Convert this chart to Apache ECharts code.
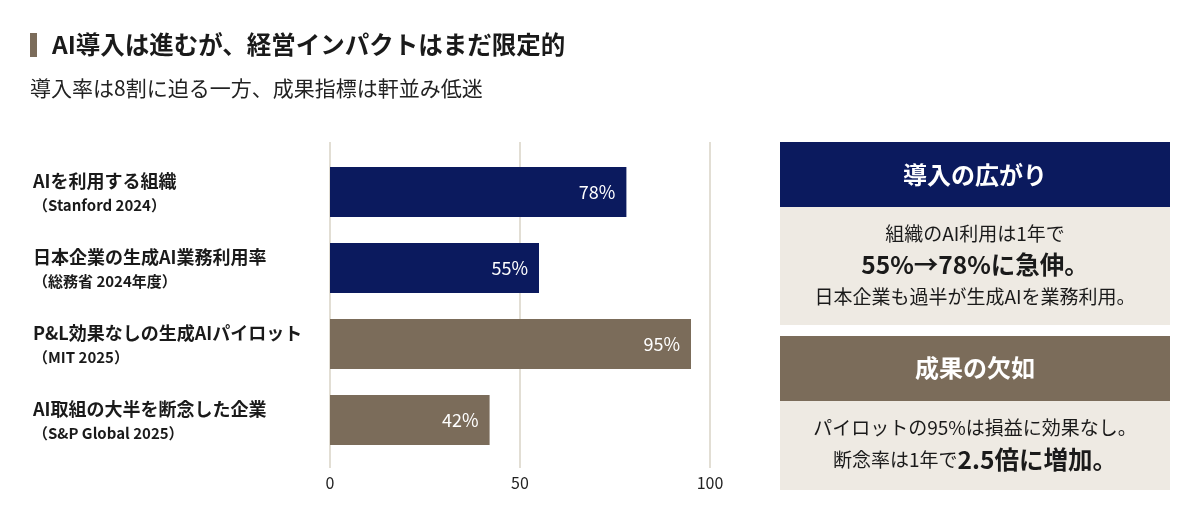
<!DOCTYPE html>
<html>
<head>
<meta charset="utf-8">
<script src="https://cdn.jsdelivr.net/npm/echarts@6/dist/echarts.min.js"></script>
<style>
  html, body { margin: 0; padding: 0; background: #fff; }
  #chart { width: 1200px; height: 520px; }
</style>
</head>
<body>
<div id="chart"></div>
<script>
// data
var categoryTitles = ['AIを利用する組織', '日本企業の生成AI業務利用率', 'P&L効果なしの生成AIパイロット', 'AI取組の大半を断念した企業'];
var categorySources = ['（Stanford 2024）', '（総務省 2024年度）', '（MIT 2025）', '（S&P Global 2025）'];
var values = [78, 55, 95, 42];
var groups = ['adoption', 'adoption', 'impact', 'impact'];
var xTicks = [0, 50, 100];

var NAVY = '#0b1a5e';
var TAUPE = '#7b6c5a';
var BEIGE = '#eeeae3';
var INK = '#1a1a1a';
var FONT = '"Noto Sans CJK JP", "Noto Sans", sans-serif';

var chart = echarts.init(document.getElementById('chart'));

function centerText(y, text, size, bold, color) {
    return {
        type: 'text', x: 975, y: y,
        style: {
            text: text, font: (bold ? 'bold ' : '') + size + 'px ' + FONT,
            fill: color || INK, align: 'center', verticalAlign: 'middle'
        }
    };
}

var option = {
    backgroundColor: '#fff',
    animation: false,
    textStyle: { fontFamily: FONT },
    grid: [
        // grid 0: only carries the vertical grid lines + tick labels
        { left: 330, right: 490, top: 142, bottom: 52 },
        // grid 1: the bars
        { left: 330, right: 490, top: 154, bottom: 62 }
    ],
    xAxis: [
        {
            gridIndex: 0, type: 'value', min: xTicks[0], max: xTicks[xTicks.length - 1], interval: 50,
            axisLine: { show: false }, axisTick: { show: false },
            splitLine: { show: true, lineStyle: { color: '#e2ded4', width: 2 } },
            axisLabel: { color: '#222', fontSize: 16, margin: 7, fontFamily: FONT }
        },
        {
            gridIndex: 1, type: 'value', min: 0, max: 100, show: false
        }
    ],
    yAxis: [
        {
            gridIndex: 0, type: 'category', data: categoryTitles, show: false
        },
        {
            gridIndex: 1, type: 'category', inverse: true,
            data: categoryTitles,
            axisLine: { show: false }, axisTick: { show: false },
            axisLabel: {
                align: 'left', margin: 297,
                formatter: function (v, i) {
                    return '{t|' + v + '}\n{s|' + categorySources[i] + '}';
                },
                rich: {
                    t: { fontSize: 18, fontWeight: 'bold', color: INK, lineHeight: 26, fontFamily: FONT },
                    s: { fontSize: 15, fontWeight: 'bold', color: INK, lineHeight: 22, fontFamily: FONT }
                }
            }
        }
    ],
    series: [{
        type: 'bar',
        xAxisIndex: 1, yAxisIndex: 1,
        barWidth: 50,
        data: values.map(function (v, i) {
            return { value: v, itemStyle: { color: groups[i] === 'adoption' ? NAVY : TAUPE } };
        }),
        label: {
            show: true, position: 'insideRight', distance: 11,
            color: '#fff', fontSize: 18, fontFamily: FONT,
            formatter: '{c}%'
        }
    }],
    graphic: [
        // title
        { type: 'rect', left: 30, top: 33, shape: { width: 7, height: 24 }, style: { fill: TAUPE } },
        { type: 'text', x: 52, y: 45, style: { text: 'AI導入は進むが、経営インパクトはまだ限定的', font: 'bold 24.5px ' + FONT, fill: INK, verticalAlign: 'middle' } },
        { type: 'text', x: 30, y: 88, style: { text: '導入率は8割に迫る一方、成果指標は軒並み低迷', font: '21px ' + FONT, fill: '#222', verticalAlign: 'middle' } },

        // panel 1
        { type: 'rect', left: 780, top: 142, shape: { width: 390, height: 65 }, style: { fill: NAVY } },
        { type: 'rect', left: 780, top: 207, shape: { width: 390, height: 118 }, style: { fill: BEIGE } },
        centerText(175, '導入の広がり', 24, true, '#fff'),
        centerText(234, '組織のAI利用は1年で', 19),
        centerText(265, '55%→78%に急伸。', 24.5, true),
        centerText(297, '日本企業も過半が生成AIを業務利用。', 19),

        // panel 2
        { type: 'rect', left: 780, top: 336, shape: { width: 390, height: 65 }, style: { fill: TAUPE } },
        { type: 'rect', left: 780, top: 401, shape: { width: 390, height: 89 }, style: { fill: BEIGE } },
        centerText(368, '成果の欠如', 24, true, '#fff'),
        centerText(428, 'パイロットの95%は損益に効果なし。', 19),
        {
            type: 'text', x: 975, y: 460,
            style: {
                text: '{a|断念率は1年で}{b|2.5倍に増加。}',
                align: 'center', verticalAlign: 'middle',
                rich: {
                    a: { fontSize: 19, fontFamily: FONT, fill: INK, color: INK },
                    b: { fontSize: 24.5, fontWeight: 'bold', fontFamily: FONT, fill: INK, color: INK }
                }
            }
        }
    ]
};

chart.setOption(option);
</script>
</body>
</html>
